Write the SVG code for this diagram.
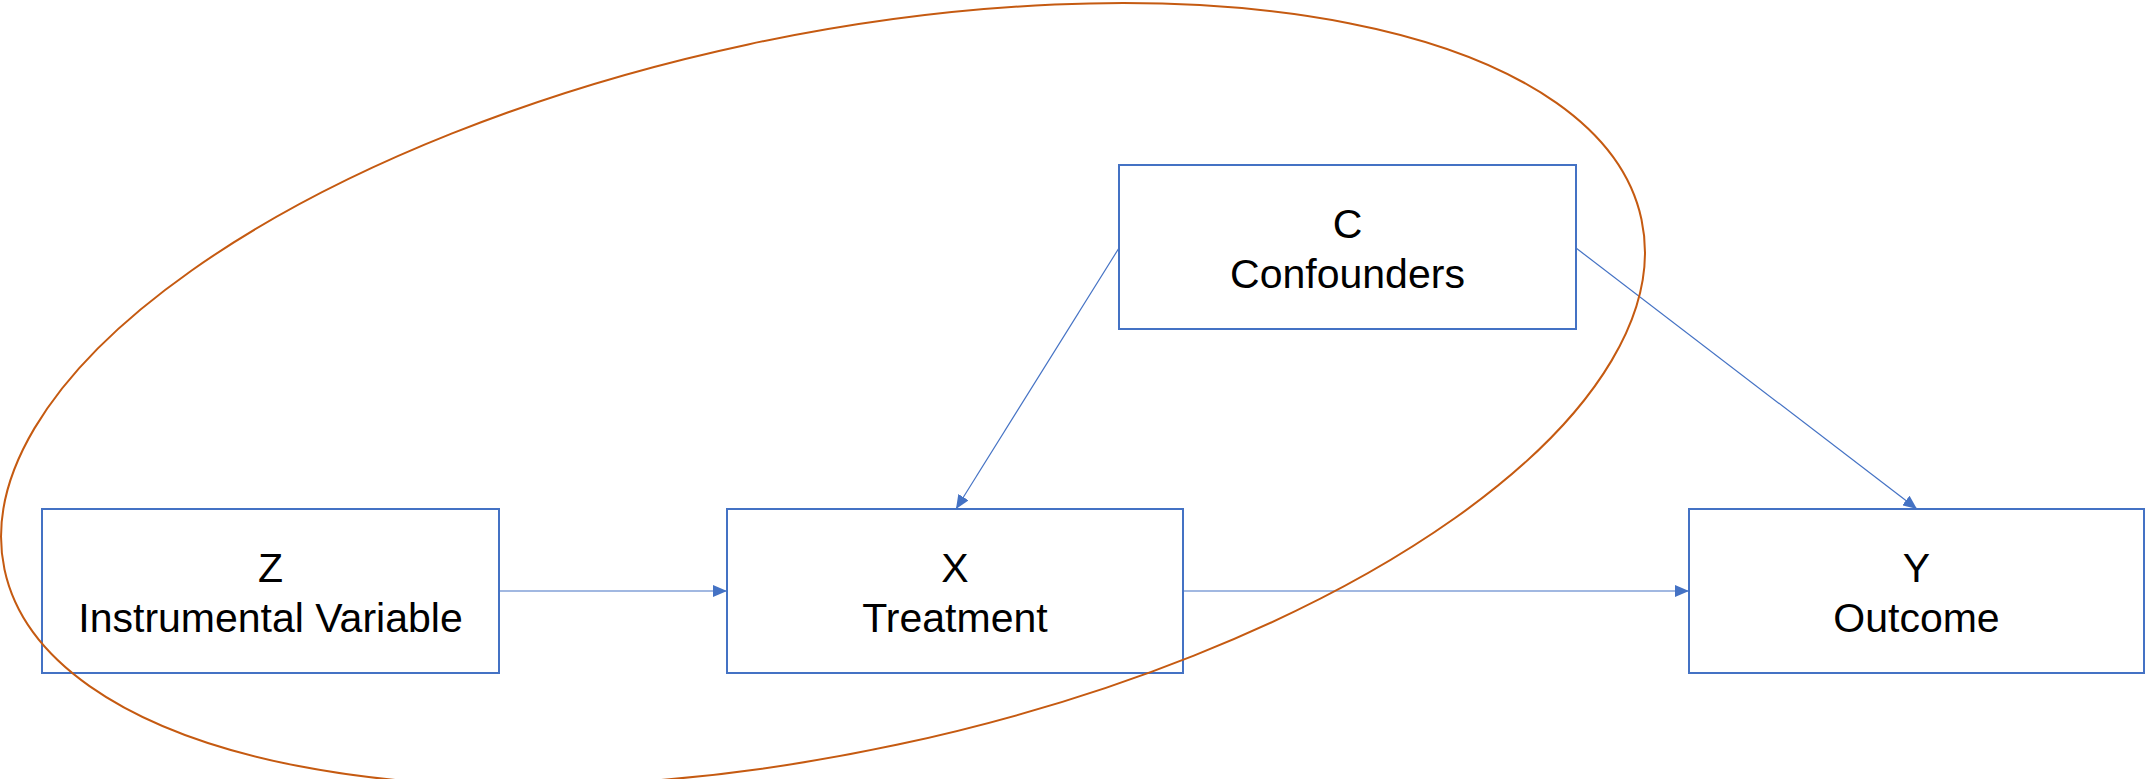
<svg xmlns="http://www.w3.org/2000/svg" width="2145" height="779" viewBox="0 0 2145 779">
<style>
.box{fill:#FFFFFF;stroke:#4472C4;stroke-width:2}
.lbl{font-family:"Liberation Sans",Arial,sans-serif;font-size:41px;fill:#000000;text-anchor:middle}
.edge{stroke:#4472C4;stroke-width:1.2;fill:none;marker-end:url(#arr)}
.ring{fill:none;stroke:#C55A11;stroke-width:2}
</style>
<defs>
<marker id="arr" markerUnits="userSpaceOnUse" markerWidth="14" markerHeight="12" refX="14" refY="6" orient="auto">
<path d="M0,0 L14,6 L0,12 z" fill="#4472C4"/>
</marker>
</defs>
<rect width="2145" height="779" fill="#FFFFFF"/>
<g id="node-C">
<rect class="box" x="1119" y="165" width="457" height="164"/>
<text class="lbl" x="1347.5" y="238">C</text>
<text class="lbl" x="1347.5" y="288">Confounders</text>
</g>
<g id="node-Z">
<rect class="box" x="42" y="509" width="457" height="164"/>
<text class="lbl" x="270.5" y="582">Z</text>
<text class="lbl" x="270.5" y="632">Instrumental Variable</text>
</g>
<g id="node-X">
<rect class="box" x="727" y="509" width="456" height="164"/>
<text class="lbl" x="955" y="582">X</text>
<text class="lbl" x="955" y="632">Treatment</text>
</g>
<g id="node-Y">
<rect class="box" x="1689" y="509" width="455" height="164"/>
<text class="lbl" x="1916.5" y="582">Y</text>
<text class="lbl" x="1916.5" y="632">Outcome</text>
</g>
<g id="connectors">
<line class="edge" x1="499" y1="591" x2="727" y2="591"/>
<line class="edge" x1="1183" y1="591" x2="1689" y2="591"/>
<line class="edge" x1="1119" y1="248" x2="956" y2="509"/>
<line class="edge" x1="1576" y1="248" x2="1917" y2="509"/>
</g>
<g id="ring">
<ellipse class="ring" cx="823" cy="394.5" rx="837" ry="358" transform="rotate(-12.07 823 394.5)"/>
</g>
</svg>
